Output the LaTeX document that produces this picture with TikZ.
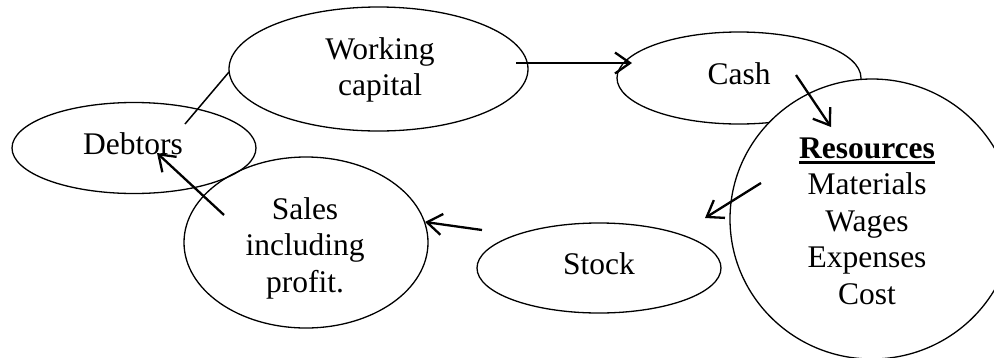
\documentclass[tikz,border=0pt]{standalone}
\usepackage{fontspec}
\setmainfont{Liberation Serif}
\usetikzlibrary{shapes.geometric,arrows.meta}
\newcommand\resul[1]{\setbox0\hbox{#1}\rlap{\rule[-5.5pt]{\wd0}{2.6pt}}\box0}
\begin{document}
\begin{tikzpicture}[x=1pt,y=-1pt,
  oval/.style={ellipse, draw, line width=1.3pt, inner sep=0pt},
  lbl/.style={align=center, font=\fontsize{31.5}{36.5}\selectfont, inner sep=0pt},
  arr/.style={line width=2.3pt, -{Straight Barb[length=15pt,width=21pt]}},
  link/.style={line width=1.5pt}]
\useasboundingbox (0,0) rectangle (994,357);
% shapes
\node[oval, minimum width=244pt, minimum height=91pt] (deb) at (134,148) {};
\node[oval, minimum width=299pt, minimum height=124pt] (wc) at (378.5,69) {};
\node[oval, minimum width=244pt, minimum height=171pt] (sales) at (306,242.5) {};
\node[oval, minimum width=244pt, minimum height=90pt] (stock) at (599,268) {};
\node[oval, minimum width=244pt, minimum height=92pt] (cash) at (739,78) {};
\node[oval, fill=white, minimum width=284pt, minimum height=280pt] (res) at (872,219) {};
% texts
\node[lbl] (tdeb) at (133,143.5) {Debtors};
\node[lbl] (twc) at (380,70) {Working\\capital};
\node[lbl] (tsales) at (305,248) {Sales\\including\\profit.};
\node[lbl] (tstock) at (599,263.5) {Stock};
\node[lbl] (tcash) at (739,73.5) {Cash};
\node[lbl] (tres) at (867,221) {\resul{\textbf{Resources}}\\Materials\\Wages\\Expenses\\Cost};
% connector end points
\coordinate (l1a) at (185,124);
\coordinate (l1b) at (229,72);
\coordinate (a1a) at (516,63);
\coordinate (a1b) at (632,63);
\coordinate (a2a) at (796,75);
\coordinate (a2b) at (831,127);
\coordinate (a3a) at (761,183);
\coordinate (a3b) at (705,218);
\coordinate (a4a) at (482,230);
\coordinate (a4b) at (425,222);
\coordinate (a5a) at (224,215);
\coordinate (a5b) at (157,153);
% connectors
\draw[link] (l1a) -- (l1b);
\draw[arr] (a1a) -- (a1b);
\draw[arr] (a2a) -- (a2b);
\draw[arr] (a3a) -- (a3b);
\draw[arr] (a4a) -- (a4b);
\draw[arr] (a5a) -- (a5b);
\end{tikzpicture}
\end{document}
